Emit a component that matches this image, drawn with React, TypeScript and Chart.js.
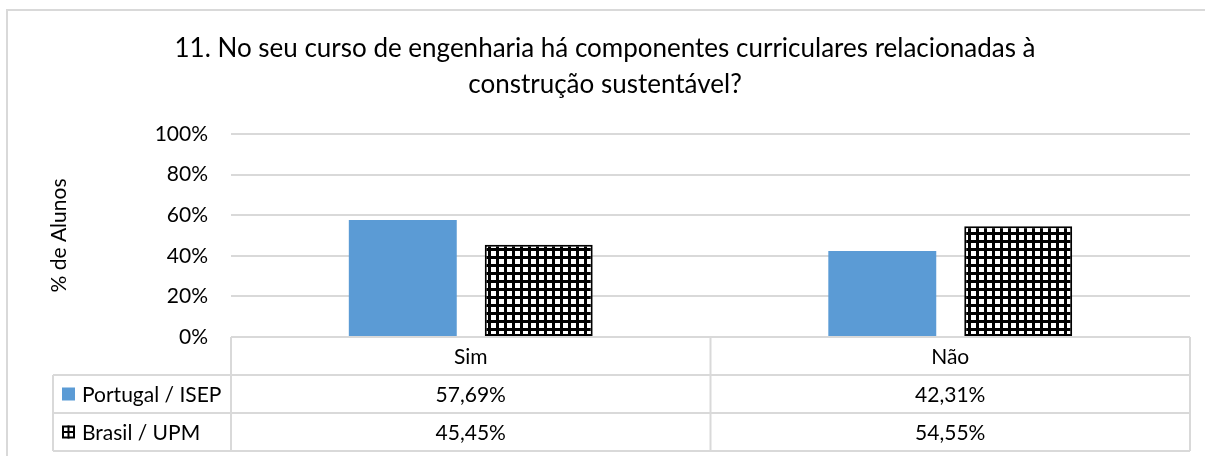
import React, { useEffect, useRef } from "react";
import { Chart, registerables } from "chart.js";

Chart.register(...registerables);

const titleLines = [
  "11. No seu curso de engenharia há componentes curriculares relacionadas à",
  "construção sustentável?",
];
const categories = ["Sim", "Não"];
const seriesNames = ["Portugal / ISEP", "Brasil / UPM"];
const portugalValues = [57.69, 42.31];
const brasilValues = [45.45, 54.55];
const yTicks = [0, 20, 40, 60, 80, 100];
const yTitle = "% de Alunos";

const FONT = "Lato";
const GRID = "#d9d9d9";
const BLUE = "#5B9BD5";

function makePattern(): CanvasPattern | string {
  const c = document.createElement("canvas");
  c.width = 8;
  c.height = 8;
  const g = c.getContext("2d");
  if (!g) return "#000";
  g.fillStyle = "#fff";
  g.fillRect(0, 0, 8, 8);
  g.fillStyle = "#000";
  g.fillRect(0, 0, 8, 3);
  g.fillRect(0, 0, 3, 8);
  const p = g.createPattern(c, "repeat");
  return p || "#000";
}

const fmt = (v: number) => v.toFixed(2).replace(".", ",") + "%";

export default function App() {
  const ref = useRef<HTMLCanvasElement | null>(null);

  useEffect(() => {
    const canvas = ref.current;
    if (!canvas) return;
    const pattern = makePattern();

    const tablePlugin = {
      id: "dataTable",
      afterDraw(chart: any) {
        const ctx = chart.ctx as CanvasRenderingContext2D;
        const area = chart.chartArea;
        const xs = chart.scales.x;
        const n = categories.length;
        const colW = (area.right - area.left) / n;
        const legendLeft = 53;
        const rowH = 38;
        const r0 = area.bottom;
        const r1 = r0 + rowH;
        const r2 = r1 + rowH;
        const r3 = r2 + rowH;
        ctx.save();
        ctx.strokeStyle = GRID;
        ctx.lineWidth = 2;
        ctx.beginPath();
        ctx.moveTo(7, 456);
        ctx.lineTo(7, 10);
        ctx.lineTo(1205, 10);
        ctx.stroke();

        // chart title
        ctx.fillStyle = "#000";
        ctx.font = `26px ${FONT}`;
        ctx.textAlign = "center";
        ctx.textBaseline = "middle";
        ctx.fillText(titleLines[0], 605, 48.5);
        ctx.fillText(titleLines[1], 605, 85);

        ctx.beginPath();
        [r1, r2, r3].forEach((y) => {
          ctx.moveTo(legendLeft, y);
          ctx.lineTo(area.right, y);
        });
        ctx.moveTo(legendLeft, r1);
        ctx.lineTo(legendLeft, r3);
        for (let i = 0; i <= n; i++) {
          const x = area.left + i * colW;
          ctx.moveTo(x, r0);
          ctx.lineTo(x, r3);
        }
        ctx.stroke();

        ctx.fillStyle = "#000";
        ctx.font = `21px ${FONT}`;
        ctx.textBaseline = "middle";
        ctx.textAlign = "center";
        categories.forEach((c, i) => {
          const cx = xs.getPixelForValue(i);
          ctx.fillText(c, cx, (r0 + r1) / 2 + 1);
          ctx.fillText(fmt(portugalValues[i]), cx, (r1 + r2) / 2 + 1);
          ctx.fillText(fmt(brasilValues[i]), cx, (r2 + r3) / 2 + 1);
        });
        ctx.textAlign = "left";
        ctx.fillText(seriesNames[0], 82, (r1 + r2) / 2 + 1);
        ctx.fillText(seriesNames[1], 82, (r2 + r3) / 2 + 1);

        const k = 13;
        const ky1 = (r1 + r2) / 2 - k / 2;
        const ky2 = (r2 + r3) / 2 - k / 2;
        ctx.fillStyle = BLUE;
        ctx.fillRect(62, ky1, k, k);
        ctx.fillStyle = "#fff";
        ctx.fillRect(62, ky2, k, k);
        ctx.fillStyle = "#000";
        ctx.fillRect(62 + 5.5, ky2, 2, k);
        ctx.fillRect(62, ky2 + 5.5, k, 2);
        ctx.strokeStyle = "#000";
        ctx.lineWidth = 2;
        ctx.strokeRect(63, ky2 + 1, k - 2, k - 2);
        ctx.restore();
      },
    };

    const chart = new Chart(canvas, {
      type: "bar",
      data: {
        labels: categories,
        datasets: [
          {
            label: seriesNames[0],
            data: portugalValues,
            backgroundColor: BLUE,
            borderWidth: 0,
            categoryPercentage: 0.567,
            barPercentage: 0.794,
          },
          {
            label: seriesNames[1],
            data: brasilValues,
            backgroundColor: pattern as any,
            borderColor: "#000",
            borderWidth: 2,
            borderSkipped: false,
            categoryPercentage: 0.567,
            barPercentage: 0.794,
          },
        ],
      },
      options: {
        animation: false,
        responsive: false,
        layout: { padding: { left: 0, right: 15, top: 134, bottom: 119 } },
        plugins: {
          legend: { display: false },
          tooltip: { enabled: false },
          title: { display: false },
        },
        scales: {
          x: {
            display: false,
            grid: { display: false },
          },
          y: {
            min: 0,
            max: 100,
            afterFit: (s: any) => {
              s.width = 231;
            },
            afterBuildTicks: (s: any) => {
              s.ticks = yTicks.map((v) => ({ value: v }));
            },
            border: { display: false },
            grid: { color: GRID, lineWidth: 2, drawTicks: false },
            ticks: {
              padding: 23,
              color: "#000",
              font: { family: FONT, size: 21 },
              callback: (v: any) => `${v}%`,
            },
            title: {
              display: true,
              text: yTitle,
              color: "#000",
              font: { family: FONT, size: 21 },
              padding: { top: 47, bottom: 0 },
            },
          },
        },
      },
      plugins: [tablePlugin],
    });
    return () => chart.destroy();
  }, []);

  return (
    <div style={{ position: "fixed", left: 0, top: 0, width: 1205, height: 456, background: "#fff" }}>
      <canvas ref={ref} width={1205} height={456} />
    </div>
  );
}
